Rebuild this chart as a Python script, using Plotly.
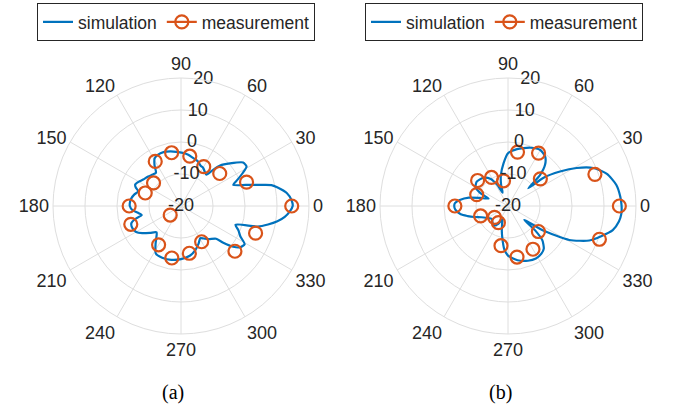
import plotly.graph_objects as go

# ---------------- data ----------------
ang_ticks = [0, 30, 60, 90, 120, 150, 180, 210, 240, 270, 300, 330]
rad_ticks = [-20, -10, 0, 10, 20]
rad_label_angle = 80

meas_theta = [0, 20, 40, 60, 80, 100, 120, 140, 160, 180, 200, 220, 240, 260, 280, 300, 320, 340]
meas_a = [14.6, 1.8, -4.2, -5.8, -4.2, -3.1, -3.9, -8.8, -8.1, -3.8, -3.3, -15.6, -6.0, -3.5, -5.0, -7.1, 2.0, 4.8]
meas_b = [14.8, 8.9, -6.8, -0.9, -2.9, -12.0, -9.7, -7.6, -9.6, -3.4, -10.9, -14.5, -14.0, -7.4, -3.8, -4.4, -7.6, 10.4]

sim_a_theta = [0, 3, 7, 11, 13, 15, 18, 22, 25, 28, 31, 35, 41, 46, 48.5, 51, 55, 60, 64, 70, 76, 82, 88, 95,
               101, 108, 114, 119, 123, 127, 132, 138, 145, 150, 155, 158, 161, 166, 172, 176, 180, 185, 189, 193,
               196, 199, 204, 210, 215, 221, 227, 232, 236, 242, 250, 260, 270, 280, 288, 295, 301, 305, 310, 317,
               319, 322, 325, 329, 333, 337, 341, 345, 348, 351, 354, 357, 360]
sim_a_r = [14.9, 14.6, 13.3, 10.6, 9.0, 5.4, 1.3, -2.4, -0.5, 1.8, 3.9, 3.7, 0.3, -2.4, -5.0, -7.4, -7.0, -6.2,
           -6.0, -5.0, -4.5, -3.8, -3.4, -3.0, -2.6, -2.3, -2.4, -3.0, -4.8, -7.0, -6.8, -6.2, -5.6, -4.8, -4.2,
           -4.8, -5.9, -5.0, -4.2, -4.0, -4.0, -4.8, -6.4, -7.4, -5.0, -3.6, -3.3, -3.8, -5.2, -7.2, -8.8, -7.5,
           -5.8, -3.2, -2.8, -2.9, -3.4, -4.2, -5.5, -7.0, -8.3, -7.6, -6.5, -5.0, -2.5, 0.7, 2.5, 3.2, 0.8, -0.5,
           -2.0, 4.8, 7.8, 10.5, 12.6, 14.0, 14.9]

sim_b_theta = [0, 5, 11, 18, 24, 29, 33.5, 38.5, 41, 44, 48, 53, 60, 69, 81, 90, 96, 103, 108, 112, 117, 123, 131,
               142, 150, 155, 159, 164, 168, 173, 177, 180, 184, 190, 194, 198, 203, 210, 218, 226, 234, 241, 247,
               252, 256, 260, 265, 270, 280, 290, 298, 305, 310, 315, 318, 319.5, 325, 331, 337, 342, 347, 352, 356,
               360]
sim_b_r = [15.5, 15.2, 14.5, 12.5, 9.2, 4.5, -0.5, -5.8, -11.6, -6.1, -2.7, -0.7, 0.2, -0.5, -2.0, -3.5, -6.6,
           -10.1, -13.0, -15.5, -12.5, -9.8, -8.3, -7.6, -8.3, -10.5, -13.5, -10.9, -7.5, -4.8, -3.4, -3.2, -3.5,
           -5.0, -7.0, -8.9, -11.0, -12.5, -13.5, -13.0, -12.5, -13.5, -15.5, -14.0, -12.0, -9.8, -6.5, -4.5, -2.8,
           -1.8, -1.4, -1.8, -2.6, -4.8, -8.5, -13.3, -6.8, 1.9, 7.6, 10.6, 13.6, 15.0, 15.5, 15.5]

captions = ["(a)", "(b)"]

# ---------------- style ----------------
W, H = 673, 410
BLUE = "#0072BD"
ORANGE = "#D95319"
GRID = "#DEDEDE"
TXT = "#262626"
FONT = "Liberation Sans, Arial, Helvetica, sans-serif"

fig = go.Figure()

panels = [
    ("polar", "legend", sim_a_theta, sim_a_r, meas_a),
    ("polar2", "legend2", sim_b_theta, sim_b_r, meas_b),
]
for sub, leg, st, sr, mr in panels:
    fig.add_trace(go.Scatterpolar(
        theta=st, r=sr, mode="lines", name="simulation", subplot=sub, legend=leg,
        line=dict(color=BLUE, width=2.2, shape="spline", smoothing=0.6)))
    fig.add_trace(go.Scatterpolar(
        theta=meas_theta, r=mr, mode="markers", name="measurement", subplot=sub, legend=leg,
        showlegend=False,
        marker=dict(symbol="circle-open", size=13, color=ORANGE, line=dict(width=2.2, color=ORANGE))))
    # legend-only entry (line with marker, as in the reference legend)
    fig.add_trace(go.Scatterpolar(
        theta=[None], r=[None], mode="lines+markers", name="measurement", subplot=sub, legend=leg,
        line=dict(color=ORANGE, width=2.2),
        marker=dict(symbol="circle-open", size=13, color=ORANGE, line=dict(width=2.2, color=ORANGE))))
    # radial tick labels, centred on the 80-degree spoke (as MATLAB polaraxes)
    fig.add_trace(go.Scatterpolar(
        theta=[rad_label_angle] * len(rad_ticks), r=rad_ticks, mode="text",
        text=[str(v) for v in rad_ticks], textposition="middle center",
        textfont=dict(family=FONT, size=18, color=TXT),
        subplot=sub, showlegend=False, hoverinfo="skip", cliponaxis=False))


def polar_layout(cx):
    R = 128
    cy = 206
    return dict(
        domain=dict(x=[(cx - R) / W, (cx + R) / W], y=[(H - cy - R) / H, (H - cy + R) / H]),
        bgcolor="white",
        angularaxis=dict(
            rotation=0, direction="counterclockwise",
            tickmode="array", tickvals=ang_ticks, ticktext=[str(v) for v in ang_ticks],
            showgrid=True, gridcolor=GRID, gridwidth=1,
            showline=True, linecolor=GRID, linewidth=1,
            ticks="", tickfont=dict(family=FONT, size=18, color=TXT),
        ),
        radialaxis=dict(
            range=[-20, 20], tickmode="array", tickvals=rad_ticks,
            angle=rad_label_angle, showticklabels=False, showline=False,
            showgrid=True, gridcolor=GRID, gridwidth=1, ticks="",
        ),
    )


def legend_layout(x0):
    return dict(
        x=x0 / W, xanchor="left", y=1 - 3 / H, yanchor="top", orientation="h",
        bordercolor=TXT, borderwidth=1, bgcolor="white",
        font=dict(family=FONT, size=17.5, color=TXT), itemwidth=30,
    )


fig.update_layout(
    template="none",
    width=W, height=H,
    margin=dict(l=0, r=0, t=0, b=0),
    paper_bgcolor="white",
    polar=polar_layout(181),
    polar2=polar_layout(508),
    legend=legend_layout(37),
    legend2=legend_layout(365),
    annotations=[
        dict(text=captions[0], x=173 / W, y=(H - 392) / H, xref="paper", yref="paper", showarrow=False,
             xanchor="center", yanchor="middle", font=dict(family="Liberation Serif, Times New Roman, serif", size=20, color="black")),
        dict(text=captions[1], x=500 / W, y=(H - 392) / H, xref="paper", yref="paper", showarrow=False,
             xanchor="center", yanchor="middle", font=dict(family="Liberation Serif, Times New Roman, serif", size=20, color="black")),
    ],
)

fig.write_html("out.html", config={"displayModeBar": False},
               post_script="document.body.style.margin='0px';document.body.style.overflow='hidden';")
